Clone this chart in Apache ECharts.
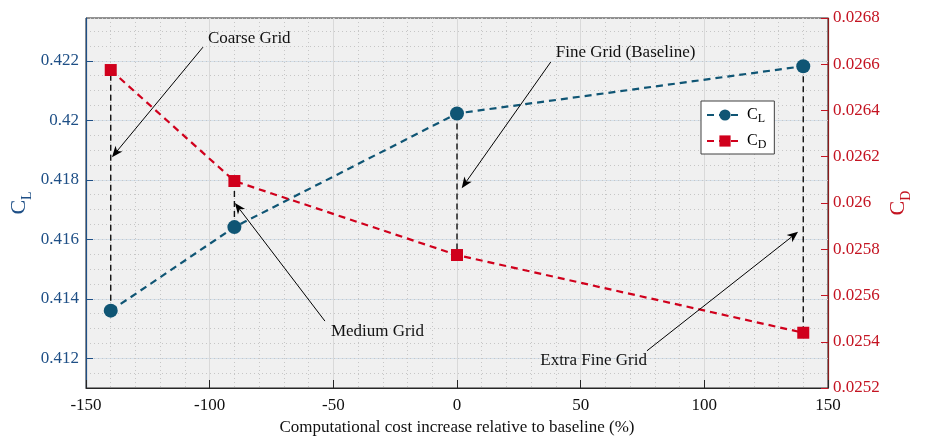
<!DOCTYPE html>
<html>
<head>
<meta charset="utf-8">
<script src="https://cdn.jsdelivr.net/npm/echarts@6/dist/echarts.min.js"></script>
<style>
html, body { margin: 0; padding: 0; background: #ffffff; }
#main { width: 925px; height: 436px; }
</style>
</head>
<body>
<div id="main"></div>
<script>
// Grid-convergence study: lift and drag coefficients vs. cost increase
const costIncrease = [-140, -90, 0, 140];
const liftCoeff = [0.4136, 0.41641, 0.42023, 0.42182];
const dragCoeff = [0.026575, 0.026095, 0.025775, 0.025439];

const xTicks = [-150, -100, -50, 0, 50, 100, 150];
const clTicks = [0.412, 0.414, 0.416, 0.418, 0.42, 0.422];
const cdTicks = [0.0252, 0.0254, 0.0256, 0.0258, 0.026, 0.0262, 0.0264, 0.0266, 0.0268];

// Annotation labels: text, arrow head [x, CL], arrow tail [x, CL]
const noteText = ['Coarse Grid', 'Medium Grid', 'Fine Grid (Baseline)', 'Extra Fine Grid'];
const noteHead = [[-139.5, 0.41876], [-89.8, 0.41722], [1.9, 0.41772], [137.9, 0.41625]];
const noteTail = [[-102.7, 0.42246], [-53.4, 0.41325], [37.9, 0.42196], [76.8, 0.41225]];

const SERIF = '"Liberation Serif", "Times New Roman", serif';
const BLUE = '#0f5574';
const RED = '#d0001c';
const AXIS_BLUE = '#1e4f86';
const AXIS_RED = '#c41422';

const chart = echarts.init(document.getElementById('main'), null, { renderer: 'canvas' });

const subRich = (color) => ({
  c: { fontFamily: SERIF, fontSize: 22, color: color, lineHeight: 30, verticalAlign: 'middle' },
  s: { fontFamily: SERIF, fontSize: 14, color: color, lineHeight: 30, verticalAlign: 'bottom' }
});

// label offsets / alignment of the annotation texts relative to the arrow tails
const noteLayout = [
  { dx: 5, dy: -9, align: 'left' },
  { dx: 6, dy: 10, align: 'left' },
  { dx: 5, dy: -9, align: 'left' },
  { dx: 0, dy: 10, align: 'right' }
];

const option = {
  backgroundColor: '#ffffff',
  animation: false,
  textStyle: { fontFamily: SERIF },
  grid: {
    left: 86, right: 97, top: 18, bottom: 48,
    outerBoundsMode: 'none',
    containLabel: false,
    show: true, backgroundColor: '#f0f0f0', borderColor: '#262626', borderWidth: 1
  },
  legend: {
    left: 701, top: 101,
    orient: 'vertical',
    backgroundColor: '#ffffff',
    borderColor: '#404040', borderWidth: 1, borderRadius: 0,
    padding: [6, 8, 3, 5],
    itemWidth: 36, itemHeight: 14, itemGap: 8,
    data: ['CL', 'CD'],
    formatter: (name) => name === 'CL' ? '{c|C}{s|L}' : '{c|C}{s|D}',
    textStyle: {
      padding: [0, 0, 0, -1],
      rich: {
        c: { fontFamily: SERIF, fontSize: 16, color: '#000', lineHeight: 20, verticalAlign: 'middle' },
        s: { fontFamily: SERIF, fontSize: 12, color: '#000', lineHeight: 20, verticalAlign: 'bottom' }
      }
    }
  },
  xAxis: {
    type: 'value',
    min: -150, max: 150, interval: 50,
    name: 'Computational cost increase relative to baseline (%)',
    nameLocation: 'middle', nameGap: 30,
    nameTextStyle: { fontFamily: SERIF, fontSize: 17, color: '#111' },
    axisLine: { show: true, onZero: false, lineStyle: { color: '#262626', width: 1.2 } },
    axisTick: { show: true, inside: true, length: 8, lineStyle: { color: '#262626' } },
    axisLabel: { fontFamily: SERIF, fontSize: 17, color: '#111', margin: 9 },
    splitLine: { show: true, lineStyle: { color: '#d9d9d9', width: 1 } },
    minorTick: { show: false, splitNumber: 5 },
    minorSplitLine: { show: true, lineStyle: { color: '#c6c6c6', width: 1, type: [1, 3] } }
  },
  yAxis: [
    {
      type: 'value',
      position: 'left',
      min: 0.411, max: 0.42344,
      name: '{c|C}{s|L}',
      nameLocation: 'middle', nameGap: 52, nameRotate: 90,
      nameMoveOverlap: false,
      nameTextStyle: { rich: subRich(AXIS_BLUE) },
      axisLine: { show: true, onZero: false, lineStyle: { color: AXIS_BLUE, width: 1.2 } },
      axisTick: { show: true, inside: true, length: 7, customValues: clTicks, lineStyle: { color: AXIS_BLUE } },
      axisLabel: {
        fontFamily: SERIF, fontSize: 17, color: AXIS_BLUE, margin: 7,
        customValues: clTicks,
        formatter: (v) => String(+v.toFixed(3))
      },
      splitLine: { show: true, lineStyle: { color: '#d5e0ea', width: 1 } }
    },
    {
      type: 'value',
      position: 'right',
      min: 0.0252, max: 0.0268, interval: 0.0002,
      name: '{c|C}{s|D}',
      nameLocation: 'middle', nameGap: 55, nameRotate: 90,
      nameMoveOverlap: false,
      nameTextStyle: { rich: subRich(AXIS_RED) },
      axisLine: { show: true, onZero: false, lineStyle: { color: '#8b1a1a', width: 1.2 } },
      axisTick: { show: true, inside: true, length: 7, lineStyle: { color: AXIS_RED } },
      axisLabel: {
        fontFamily: SERIF, fontSize: 17, color: AXIS_RED, margin: 5,
        formatter: (v) => String(+v.toFixed(4))
      },
      splitLine: { show: false }
    },
    {
      // minor dotted grid for the CL axis
      type: 'value',
      position: 'left',
      min: 0.411, max: 0.42344, interval: 0.0005,
      axisLine: { show: false, onZero: false },
      axisTick: { show: false },
      axisLabel: { show: false },
      splitLine: { show: true, lineStyle: { color: '#c6c6c6', width: 1, type: [1, 3] } }
    }
  ],
  series: [
    {
      // vertical dashed connectors between CL and CD of the same grid
      type: 'custom',
      xAxisIndex: 0, yAxisIndex: 0,
      z: 2,
      silent: true,
      data: costIncrease.map((x, i) => [x, liftCoeff[i], dragCoeff[i]]),
      encode: { x: 0, y: 1 },
      renderItem: (params, api) => {
        const x = api.value(0);
        const p1 = api.coord([x, api.value(1)]);
        const p2 = chart.convertToPixel({ xAxisIndex: 0, yAxisIndex: 1 }, [x, api.value(2)]);
        return {
          type: 'line',
          shape: { x1: p1[0], y1: p1[1], x2: p2[0], y2: p2[1] },
          style: { stroke: '#111', lineWidth: 1.4, lineDash: [6, 4] }
        };
      }
    },
    {
      name: 'CL',
      type: 'line',
      xAxisIndex: 0, yAxisIndex: 0,
      z: 3,
      data: costIncrease.map((x, i) => [x, liftCoeff[i]]),
      symbol: 'circle', symbolSize: 14,
      lineStyle: { color: BLUE, width: 2.2, type: [7, 5] },
      itemStyle: { color: BLUE }
    },
    {
      name: 'CD',
      type: 'line',
      xAxisIndex: 0, yAxisIndex: 1,
      z: 3,
      data: costIncrease.map((x, i) => [x, dragCoeff[i]]),
      symbol: 'rect', symbolSize: 12,
      lineStyle: { color: RED, width: 2.2, type: [7, 5] },
      itemStyle: { color: RED }
    },
    {
      // annotation arrows with their labels
      type: 'custom',
      xAxisIndex: 0, yAxisIndex: 0,
      z: 4,
      silent: true,
      data: noteText.map((t, i) => [noteHead[i][0], noteHead[i][1], noteTail[i][0], noteTail[i][1], i]),
      encode: { x: 0, y: 1 },
      renderItem: (params, api) => {
        const head = api.coord([api.value(0), api.value(1)]);
        const tail = api.coord([api.value(2), api.value(3)]);
        const idx = api.value(4);
        const lay = noteLayout[idx];
        const dx = head[0] - tail[0], dy = head[1] - tail[1];
        const len = Math.sqrt(dx * dx + dy * dy);
        const ux = dx / len, uy = dy / len;
        const nx = -uy, ny = ux;
        const L = 11, W = 4.5, notch = 3;
        const back = [head[0] - ux * L, head[1] - uy * L];
        const mid = [head[0] - ux * (L - notch), head[1] - uy * (L - notch)];
        return {
          type: 'group',
          children: [
            {
              type: 'line',
              shape: { x1: tail[0], y1: tail[1], x2: mid[0], y2: mid[1] },
              style: { stroke: '#000', lineWidth: 1 }
            },
            {
              type: 'polygon',
              shape: {
                points: [
                  head,
                  [back[0] + nx * W, back[1] + ny * W],
                  mid,
                  [back[0] - nx * W, back[1] - ny * W]
                ]
              },
              style: { fill: '#000' }
            },
            {
              type: 'text',
              x: tail[0] + lay.dx,
              y: tail[1] + lay.dy,
              style: {
                text: noteText[idx],
                fontFamily: SERIF, fontSize: 17, fill: '#111',
                align: lay.align, verticalAlign: 'middle'
              }
            }
          ]
        };
      }
    }
  ]
};

chart.setOption(option);
</script>
</body>
</html>
